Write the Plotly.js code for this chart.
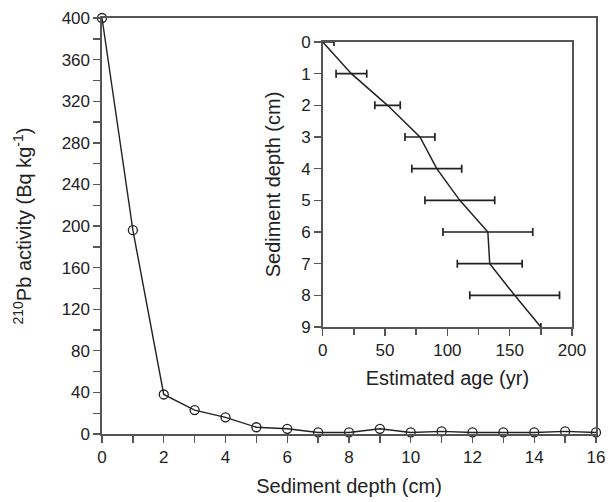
<!DOCTYPE html>
<html>
<head>
<meta charset="utf-8">
<script src="https://cdn.plot.ly/plotly-3.0.1.min.js"></script>
<style>html,body{margin:0;padding:0;background:#fff;}#chart{width:611px;height:502px;}</style>
</head>
<body>
<div id="chart"></div>
<script>
// Main panel: 210Pb activity vs sediment depth
const depthMain = [0,1,2,3,4,5,6,7,8,9,10,11,12,13,14,15,16];
const activity  = [400,196,38,23,16,6.5,5,1.5,1.5,5,1.5,2.5,1.5,1.5,1.5,2.5,1.5];

// Inset: estimated age vs sediment depth
const depthInset = [0,1,2,3,4,5,6,7,8,9];
const age        = [0,23,52,78,91.5,110,132.5,134,154,175];
const ageErr     = [9,12.3,10.2,12,20,28,36,26,36,0];

const axisCol = '#555';
const lineCol = '#222';
const font = {family:'Liberation Sans, Arial, sans-serif', size:17, color:'#222'};

const traces = [
  {x: depthMain, y: activity, type:'scatter', mode:'lines+markers',
   line:{color:lineCol, width:1.4},
   marker:{symbol:'circle-open', size:9, color:lineCol, line:{width:1.3}},
   cliponaxis:false, xaxis:'x', yaxis:'y', showlegend:false},
  {x: age, y: depthInset, type:'scatter', mode:'lines',
   line:{color:lineCol, width:1.5},
   error_x:{type:'data', array: ageErr, symmetric:true, color:lineCol, thickness:1.7, width:4},
   xaxis:'x2', yaxis:'y2', showlegend:false}
];

const layout = {
  width:611, height:502,
  margin:{l:102, r:15, t:18, b:68},
  paper_bgcolor:'#fff', plot_bgcolor:'#fff',
  font: font,
  xaxis:{domain:[0,1], range:[0,16], dtick:2, tick0:0, showgrid:false, zeroline:false,
    showline:true, linecolor:axisCol, linewidth:1.6, mirror:true,
    ticks:'outside', ticklen:7, tickwidth:1.4, tickcolor:axisCol,
    minor:{dtick:1, ticks:'outside', ticklen:7, tickwidth:1.4, tickcolor:axisCol},
    tickfont:{size:17},
    title:{text:'Sediment depth (cm)', font:{size:20}, standoff:13}},
  yaxis:{domain:[0,1], range:[0,400], dtick:40, tick0:0, showgrid:false, zeroline:false,
    showline:true, linecolor:axisCol, linewidth:1.6, mirror:true,
    ticks:'outside', ticklen:7, tickwidth:1.4, tickcolor:axisCol,
    minor:{dtick:20, ticks:'outside', ticklen:7, tickwidth:1.4, tickcolor:axisCol},
    tickfont:{size:17},
    title:{text:'<sup>210</sup>Pb activity (Bq kg<sup>-1</sup>)', font:{size:20}, standoff:24}},
  xaxis2:{domain:[0.4468,0.9514], anchor:'y2', range:[0,200], dtick:50, tick0:0,
    showgrid:false, zeroline:false, showline:true, linecolor:axisCol, linewidth:1.6, mirror:true,
    ticks:'outside', ticklen:7, tickwidth:1.4, tickcolor:axisCol,
    minor:{dtick:25, ticks:'outside', ticklen:6, tickwidth:1.4, tickcolor:axisCol},
    tickfont:{size:17},
    title:{text:'Estimated age (yr)', font:{size:20}, standoff:12}},
  yaxis2:{domain:[0.2572,0.9423], anchor:'x2', range:[9,0], dtick:1, tick0:0,
    showgrid:false, zeroline:false, showline:true, linecolor:axisCol, linewidth:1.6, mirror:true,
    ticks:'outside', ticklen:7, tickwidth:1.4, tickcolor:axisCol,
    tickfont:{size:17},
    title:{text:'Sediment depth (cm)', font:{size:20}, standoff:15}}
};

Plotly.newPlot('chart', traces, layout, {staticPlot:true, displayModeBar:false});
</script>
</body>
</html>
